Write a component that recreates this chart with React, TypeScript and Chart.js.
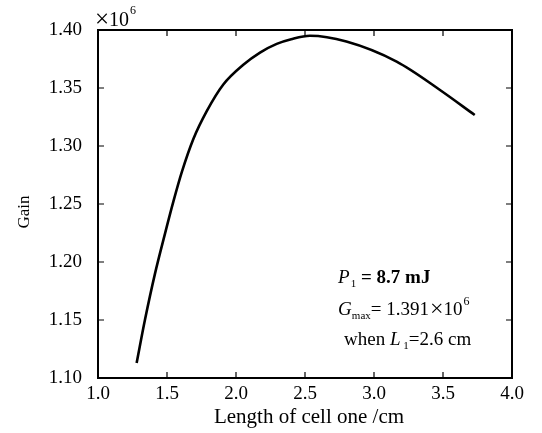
import React, { useEffect, useRef } from "react";
import { Chart, registerables } from "chart.js";

Chart.register(...registerables);

const lengths = [1.28, 1.34, 1.413, 1.486, 1.546, 1.606, 1.691, 1.788, 1.908, 2.053, 2.174, 2.295, 2.4, 2.536, 2.8, 3.164, 3.478, 3.73];
const gains = [1.113, 1.15, 1.19, 1.2247, 1.252, 1.277, 1.306, 1.33, 1.353, 1.37, 1.3805, 1.388, 1.392, 1.395, 1.39, 1.3727, 1.3483, 1.3267];
const xTicks = [1.0, 1.5, 2.0, 2.5, 3.0, 3.5, 4.0];
const yTicks = [1.1, 1.15, 1.2, 1.25, 1.3, 1.35, 1.4];
const xTitle = "Length of cell one /cm";
const yTitle = "Gain";

const FONT = "'Liberation Serif', 'Times New Roman', serif";

const framePlugin = {
  id: "frame",
  afterDraw(chart: any) {
    const { ctx, chartArea: a, scales } = chart;
    const xs = scales.x, ys = scales.y;
    ctx.save();
    ctx.strokeStyle = "#000";
    ctx.lineWidth = 2;
    ctx.strokeRect(a.left, a.top, a.right - a.left, a.bottom - a.top);
    ctx.lineWidth = 1.2;
    const t = 6;
    ctx.beginPath();
    for (const v of xTicks) {
      const px = xs.getPixelForValue(v);
      ctx.moveTo(px, a.bottom); ctx.lineTo(px, a.bottom - t);
      ctx.moveTo(px, a.top); ctx.lineTo(px, a.top + t);
    }
    for (const v of yTicks) {
      const py = ys.getPixelForValue(v);
      ctx.moveTo(a.left, py); ctx.lineTo(a.left + t, py);
      ctx.moveTo(a.right, py); ctx.lineTo(a.right - t, py);
    }
    ctx.stroke();

    ctx.fillStyle = "#000";
    ctx.textBaseline = "alphabetic";

    // axis titles
    ctx.font = `21px ${FONT}`;
    ctx.textAlign = "center";
    ctx.fillText(xTitle, (a.left + a.right) / 2 + 4, 423);
    ctx.save();
    ctx.translate(29, (a.top + a.bottom) / 2 + 8);
    ctx.rotate(-Math.PI / 2);
    ctx.font = `17px ${FONT}`;
    ctx.fillText(yTitle, 0, 0);
    ctx.restore();
    ctx.textAlign = "left";

    // exponent label
    let ex = a.left - 3;
    ctx.font = `25px ${FONT}`;
    ctx.fillText("×", ex, a.top - 3);
    ex += ctx.measureText("×").width;
    ctx.font = `20px ${FONT}`;
    ctx.fillText("10", ex, a.top - 4);
    ex += ctx.measureText("10").width;
    ctx.font = `12px ${FONT}`;
    ctx.fillText("6", ex + 1, a.top - 16);

    // annotation
    const x0 = xs.getPixelForValue(2.74);
    let y = ys.getPixelForValue(1.182);
    const seg = (txt: string, size: number, style: string, dy: number, x: number) => {
      ctx.font = `${style} ${size}px ${FONT}`;
      ctx.fillText(txt, x, y + dy);
      return x + ctx.measureText(txt).width;
    };
    let x = x0;
    x = seg("P", 19, "italic", 0, x);
    x = seg("1", 11, "normal", 4, x + 1);
    seg(" = 8.7 mJ", 19, "bold", 0, x);
    y += 32;
    x = x0;
    x = seg("G", 19, "italic", 0, x);
    x = seg("max", 11, "normal", 4, x);
    x = seg("= 1.391", 19, "normal", 0, x);
    x = seg("×", 24, "normal", 1, x + 1);
    x = seg("10", 19, "normal", 0, x);
    seg("6", 12, "normal", -10, x + 1);
    y += 30;
    x = x0 + 6;
    x = seg("when ", 19, "normal", 0, x);
    x = seg("L", 19, "italic", 0, x);
    x = seg(" 1", 11, "normal", 4, x);
    seg("=2.6 cm", 19, "normal", 0, x);
    ctx.restore();
  },
};

export default function App() {
  const ref = useRef<HTMLCanvasElement | null>(null);
  useEffect(() => {
    if (!ref.current) return;
    const chart = new Chart(ref.current, {
      type: "line",
      data: {
        datasets: [
          {
            data: lengths.map((l, i) => ({ x: l, y: gains[i] })),
            borderColor: "#000",
            borderWidth: 2.6,
            pointRadius: 0,
            cubicInterpolationMode: "monotone",
            fill: false,
          },
        ],
      },
      options: {
        animation: false,
        responsive: false,
        layout: { padding: { left: 0, right: 30, top: 30, bottom: 0 } },
        plugins: { legend: { display: false }, tooltip: { enabled: false } },
        scales: {
          x: {
            type: "linear",
            min: 1.0,
            max: 4.0,
            afterBuildTicks: (s: any) => { s.ticks = xTicks.map((v) => ({ value: v })); },
            afterFit: (s: any) => { s.height = 55; },
            grid: { display: false, drawTicks: false },
            border: { display: false },
            ticks: {
              color: "#000",
              padding: 5,
              font: { family: FONT, size: 19 },
              callback: (v: any) => Number(v).toFixed(1),
            },
          },
          y: {
            type: "linear",
            min: 1.1,
            max: 1.4,
            afterBuildTicks: (s: any) => { s.ticks = yTicks.map((v) => ({ value: v })); },
            afterFit: (s: any) => { s.width = 98; },
            grid: { display: false, drawTicks: false },
            border: { display: false },
            ticks: {
              color: "#000",
              padding: 16,
              font: { family: FONT, size: 19 },
              callback: (v: any) => Number(v).toFixed(2),
            },
          },
        },
      },
      plugins: [framePlugin],
    } as any);
    return () => chart.destroy();
  }, []);
  return (
    <div style={{ position: "absolute", left: 0, top: 0, width: 542, height: 433, background: "#fff" }}>
      <canvas ref={ref} width={542} height={433} style={{ display: "block" }} />
    </div>
  );
}
